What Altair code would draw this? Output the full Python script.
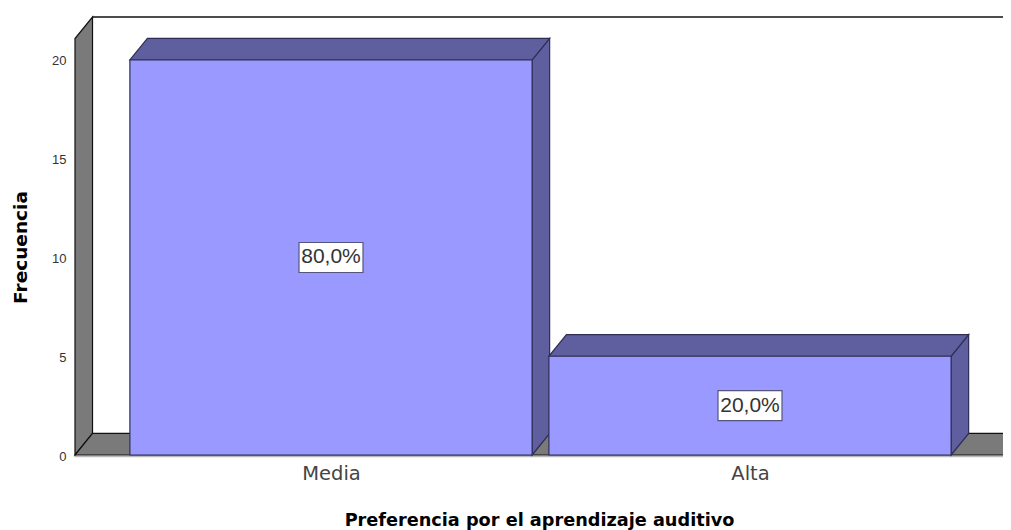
import altair as alt
import pandas as pd

categorias = ["Media", "Alta"]
frecuencias = [20, 5]
porcentajes = ["80,0%", "20,0%"]

# scale set-up (one x unit = one category step of 419 px)
PLOT_W = 928
X_MIN = -0.611
X_MAX = X_MIN + PLOT_W / 419
Y_MAX = 22.177
BAR_HALF = 0.48
DX = 0.0418      # depth of the 3D effect in x units
DY = 1.09        # depth of the 3D effect in y units
WALL = Y_MAX - DY
FLOOR_END = 1.616

FRONT = "#9999FF"
SHADE = "#5F5F9F"
EDGE = "#2E2E55"
GREY = "#7A7A7A"
FONT = "Liberation Sans"
WIDE = "DejaVu Sans"

x_scale = alt.Scale(domain=[X_MIN, X_MAX], nice=False, zero=False)
y_scale = alt.Scale(domain=[0, Y_MAX], nice=False, zero=False)

x_axis = alt.Axis(
    title="Preferencia por el aprendizaje auditivo",
    values=[0, 1],
    labelExpr=f"datum.value == 0 ? '{categorias[0]}' : '{categorias[1]}'",
    labelFont=WIDE, labelFontSize=19.5, labelColor="#444444", labelPadding=9.5,
    titleFont=WIDE, titleFontSize=17.7, titleFontWeight="bold", titleColor="#000000",
    titlePadding=28, domain=False, ticks=False, grid=False)
y_axis = alt.Axis(
    title="Frecuencia",
    titleY=230,
    values=[0, 5, 10, 15, 20],
    labelFont=FONT, labelFontSize=13, labelColor="#333333", labelPadding=9, labelOffset=1,
    titleFont=WIDE, titleFontSize=18.5, titleFontWeight="bold", titleColor="#000000",
    titlePadding=21, domain=False, ticks=False, grid=False)
X = alt.X("x:Q", scale=x_scale, axis=x_axis)
Y = alt.Y("y:Q", scale=y_scale, axis=y_axis)


def poly(rows, fill, stroke, width=1.2):
    df = pd.DataFrame(rows, columns=["x", "y", "y2"])
    return alt.Chart(df).mark_area(fill=fill, stroke=stroke, strokeWidth=width, opacity=1).encode(
        x=X, y=Y, y2="y2:Q")


layers = []

# back wall top line
layers.append(alt.Chart(pd.DataFrame({"x": [X_MIN + DX, X_MAX + 0.1], "y": [Y_MAX, Y_MAX]}))
              .mark_line(color="#111111", strokeWidth=1.4).encode(x=X, y=Y))

# baseline shadow
layers.append(alt.Chart(pd.DataFrame({"x": [X_MIN, X_MAX], "y": [0, 0]}))
              .mark_line(color="#BBBBBB", strokeWidth=1.5, yOffset=1.5).encode(x=X, y=Y))

# left wall
layers.append(poly([(X_MIN, 0, WALL), (X_MIN + DX, DY, WALL + DY)], GREY, "#111111"))

# floor
layers.append(poly([
    (X_MIN, 0, 0),
    (X_MIN + DX, 0, DY),
    (FLOOR_END, 0, DY),
    (FLOOR_END + DX, DY, DY),
], GREY, "#111111"))

# bars
for i, v in enumerate(frecuencias):
    a, b = i - BAR_HALF, i + BAR_HALF
    layers.append(poly([(b, 0, v), (b + DX, DY, v + DY)], SHADE, EDGE))
    layers.append(poly([
        (a, v, v),
        (a + DX, v, v + DY),
        (b, v, v + DY),
        (b + DX, v + DY, v + DY),
    ], SHADE, EDGE))
    layers.append(poly([(a, 0, v), (b, 0, v)], FRONT, EDGE))

# percentage labels
labels = pd.DataFrame({
    "x": list(range(len(categorias))),
    "y": [v / 2 for v in frecuencias],
    "t": porcentajes,
})
layers.append(alt.Chart(labels).mark_rect(width=64, height=30, fill="#FFFFFF", stroke="#55557F", strokeWidth=1.2).encode(x=X, y=Y))
layers.append(alt.Chart(labels).mark_text(font=FONT, fontSize=21, color="#333333", baseline="middle", align="center").encode(x=X, y=Y, text="t:N"))

chart = alt.layer(*layers).properties(
    width=PLOT_W, height=438,
    autosize=alt.AutoSizeParams(type="none"),
    padding={"left": 67, "top": 9, "right": 0, "bottom": 75},
    background="#FFFFFF",
).configure_view(stroke=None)

chart.save("out.html", embed_options={"renderer": "svg", "actions": False})
